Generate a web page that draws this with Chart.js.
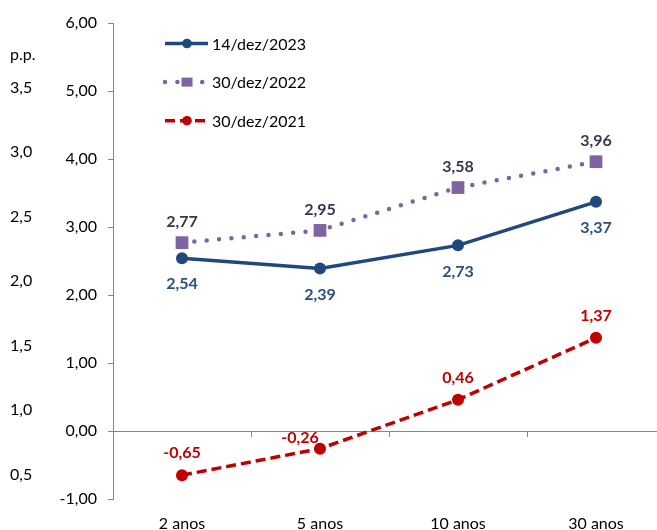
<!DOCTYPE html>
<html lang="pt">
<head>
<meta charset="utf-8">
<title>Curva de juros</title>
<script src="https://cdn.jsdelivr.net/npm/chart.js@4/dist/chart.umd.min.js"></script>
<style>
  html, body { margin: 0; padding: 0; background: #ffffff; overflow: hidden; width: 657px; height: 530px; }
  #wrap { width: 674px; height: 530px; }
</style>
</head>
<body>
<div id="wrap"><canvas id="chart" width="674" height="530"></canvas></div>
<script>
// Vértices da curva
const maturities = ['2 anos', '5 anos', '10 anos', '30 anos'];

// Taxas por data de referência
const dez2023 = [2.54, 2.39, 2.73, 3.37];
const dez2022 = [2.77, 2.95, 3.58, 3.96];
const dez2021 = [-0.65, -0.26, 0.46, 1.37];

const seriesNames = ['14/dez/2023', '30/dez/2022', '30/dez/2021'];

// Eixo principal
const mainTicks = [-1, 0, 1, 2, 3, 4, 5, 6];

// Escala auxiliar à esquerda (p.p.)
const ppTickValues = [0.5, 1.0, 1.5, 2.0, 2.5, 3.0, 3.5, 3.75];
const ppTickLabels = ['0,5', '1,0', '1,5', '2,0', '2,5', '3,0', '3,5', 'p.p.'];

const FONT = 'Lato, "Open Sans", sans-serif';
const fmt = v => v.toFixed(2).replace('.', ',');
const AXIS_GRAY = '#868686';

// Rótulos de valor junto aos pontos
const valueLabels = {
  id: 'valueLabels',
  afterDatasetsDraw(chart) {
    const ctx = chart.ctx;
    ctx.save();
    ctx.font = 'bold 16px ' + FONT;
    ctx.textAlign = 'center';
    ctx.textBaseline = 'middle';
    chart.data.datasets.forEach((ds, di) => {
      const meta = chart.getDatasetMeta(di);
      meta.data.forEach((pt, i) => {
        const shift = (ds.labelShift && ds.labelShift[i]) || [0, ds.labelDy];
        ctx.fillStyle = ds.labelColor;
        ctx.fillText(fmt(ds.data[i]), pt.x + shift[0], pt.y + shift[1]);
      });
    });
    ctx.restore();
  }
};

// Legenda desenhada dentro da área do gráfico
const insideLegend = {
  id: 'insideLegend',
  afterDraw(chart) {
    const ctx = chart.ctx;
    const x0 = 165, x1 = 208, xm = 187, xt = 212;
    chart.data.datasets.forEach((ds, k) => {
      const y = 43.5 + k * 38.6;
      ctx.save();
      ctx.strokeStyle = ds.borderColor;
      ctx.lineWidth = ds.borderWidth;
      ctx.lineCap = ds.borderCapStyle || 'butt';
      ctx.setLineDash(ds.borderDash || []);
      ctx.beginPath();
      ctx.moveTo(x0, y);
      ctx.lineTo(x1, y);
      ctx.stroke();
      ctx.setLineDash([]);
      ctx.fillStyle = ds.pointBackgroundColor;
      if (ds.pointStyle === 'rect') {
        ctx.fillRect(xm - 5.5, y - 4.5, 11, 9);
      } else {
        ctx.beginPath();
        ctx.arc(xm, y, 4.8, 0, Math.PI * 2);
        ctx.fill();
      }
      ctx.fillStyle = '#000000';
      ctx.font = '16px ' + FONT;
      ctx.textAlign = 'left';
      ctx.textBaseline = 'middle';
      ctx.fillText(ds.label, xt, y + 1);
      ctx.restore();
    });
  }
};

new Chart(document.getElementById('chart'), {
  type: 'line',
  data: {
    labels: maturities,
    datasets: [
      {
        label: seriesNames[0],
        data: dez2023,
        borderColor: '#1F497D',
        backgroundColor: '#1F497D',
        pointBackgroundColor: '#1F497D',
        pointBorderColor: '#1F497D',
        borderWidth: 3.5,
        pointStyle: 'circle',
        pointRadius: 6,
        pointBorderWidth: 0,
        labelColor: '#2A4F86',
        labelDy: 26,
        xAxisID: 'x', yAxisID: 'y'
      },
      {
        label: seriesNames[1],
        data: dez2022,
        borderColor: '#8064A2',
        backgroundColor: '#8064A2',
        pointBackgroundColor: '#8064A2',
        pointBorderColor: '#8064A2',
        borderWidth: 4.5,
        borderDash: [0, 12.4],
        borderCapStyle: 'round',
        pointStyle: 'rect',
        pointRadius: 9,
        pointBorderWidth: 0,
        labelColor: '#3F3151',
        labelDy: -21,
        xAxisID: 'x', yAxisID: 'y'
      },
      {
        label: seriesNames[2],
        data: dez2021,
        borderColor: '#C00000',
        backgroundColor: '#C00000',
        pointBackgroundColor: '#C00000',
        pointBorderColor: '#C00000',
        borderWidth: 3.5,
        borderDash: [10, 5],
        pointStyle: 'circle',
        pointRadius: 6,
        pointBorderWidth: 0,
        labelColor: '#C00000',
        labelDy: -22,
        labelShift: { 1: [-20, -11] },
        xAxisID: 'x', yAxisID: 'y'
      }
    ]
  },
  options: {
    responsive: false,
    animation: false,
    events: [],
    layout: { padding: { left: 10, top: 23, right: 2, bottom: 0 } },
    plugins: {
      legend: { display: false },
      tooltip: { enabled: false }
    },
    scales: {
      x: {
        type: 'category',
        position: { y: 0 },
        offset: true,
        grid: { offset: true, drawOnChartArea: false, tickLength: 5, color: AXIS_GRAY, lineWidth: 1 },
        border: { color: AXIS_GRAY, width: 1 },
        ticks: { display: false }
      },
      x2: {
        type: 'category',
        position: 'bottom',
        offset: true,
        grid: { display: false, drawTicks: false },
        border: { display: false },
        ticks: { color: '#000000', font: { family: FONT, size: 16 }, padding: 15, maxRotation: 0 },
        afterFit(scale) { scale.height = 31; }
      },
      y: {
        type: 'linear',
        position: 'left',
        weight: 0,
        min: -1,
        max: 6,
        afterBuildTicks(scale) { scale.ticks = mainTicks.map(v => ({ value: v })); },
        grid: { drawOnChartArea: false, tickLength: 5, color: AXIS_GRAY },
        border: { color: AXIS_GRAY, width: 1 },
        ticks: {
          color: '#000000',
          font: { family: FONT, size: 16 },
          padding: 11,
          callback: v => fmt(v)
        },
        afterFit(scale) { scale.width = 63; }
      },
      yPP: {
        type: 'linear',
        position: 'left',
        weight: 1,
        min: 0.31,
        max: 4.0,
        afterBuildTicks(scale) { scale.ticks = ppTickValues.map(v => ({ value: v })); },
        grid: { display: false, drawTicks: false },
        border: { display: false },
        ticks: {
          autoSkip: false,
          crossAlign: 'far',
          padding: 0,
          color: '#000000',
          font: { family: FONT, size: 16 },
          callback: (v, i) => ppTickLabels[i]
        },
        afterFit(scale) { scale.width = 40; }
      }
    }
  },
  plugins: [valueLabels, insideLegend]
});
</script>
</body>
</html>
